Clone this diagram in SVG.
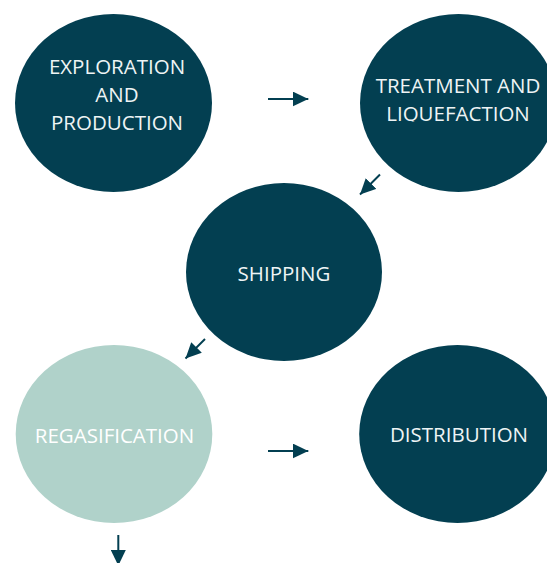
<svg xmlns="http://www.w3.org/2000/svg" width="547" height="563" viewBox="0 0 547 563">
<style>
.dark{fill:#033f51}
.light{fill:#b0d2ca}
.t{font-family:"Open Sans","Noto Sans",sans-serif;font-size:20.5px;text-anchor:middle;fill:#eef4f5}
.c{stroke:#033f51;stroke-width:2;fill:none}
</style>
<defs>
<marker id="ah" markerUnits="userSpaceOnUse" markerWidth="16" markerHeight="15" refX="15.6" refY="7.5" orient="auto" viewBox="0 0 16 15">
<path d="M0,0 L15.6,7.5 L0,15 z" fill="#033f51"/>
</marker>
<clipPath id="clipT"><rect x="340" y="60" width="220" height="61.5"/></clipPath>
</defs>
<rect width="547" height="563" fill="#ffffff"/>
<g id="connectors">
<line class="c" x1="268" y1="99" x2="308.3" y2="99" marker-end="url(#ah)"/>
<line class="c" x1="380" y1="174.5" x2="360" y2="194.5" marker-end="url(#ah)"/>
<line class="c" x1="205" y1="339" x2="185.5" y2="358.5" marker-end="url(#ah)"/>
<line class="c" x1="268" y1="451" x2="308.3" y2="451" marker-end="url(#ah)"/>
<line class="c" x1="118.3" y1="535" x2="118.3" y2="565.6" marker-end="url(#ah)"/>
</g>
<g id="exploration">
<ellipse class="dark" cx="113.5" cy="103" rx="98.5" ry="89"/>
<text class="t" x="117" y="74">EXPLORATION</text>
<text class="t" x="117" y="101.7">AND</text>
<text class="t" x="117" y="130">PRODUCTION</text>
</g>
<g id="treatment">
<ellipse class="dark" cx="458.5" cy="103" rx="98.5" ry="89"/>
<g clip-path="url(#clipT)">
<text class="t" x="458" y="93">TREATMENT AND</text>
<text class="t" x="458" y="120.7">LIQUEFACTION</text>
</g>
</g>
<g id="shipping">
<ellipse class="dark" cx="284" cy="272" rx="98" ry="89"/>
<text class="t" x="284" y="280.7">SHIPPING</text>
</g>
<g id="regasification">
<ellipse class="light" cx="114" cy="434" rx="98.3" ry="89"/>
<text class="t" x="114.5" y="442.7" style="fill:#ffffff">REGASIFICATION</text>
</g>
<g id="distribution">
<ellipse class="dark" cx="457.5" cy="434" rx="98.3" ry="89"/>
<text class="t" x="459" y="441.7">DISTRIBUTION</text>
</g>
</svg>
